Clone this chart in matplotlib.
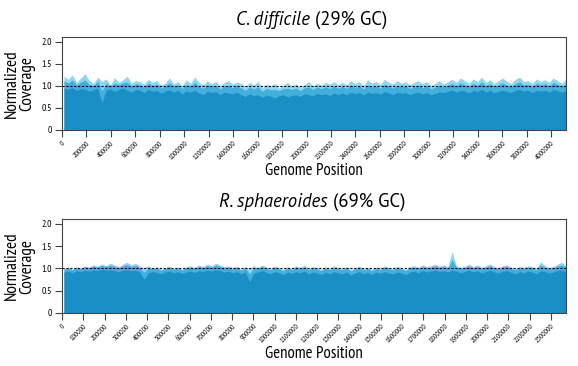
import numpy as np
import matplotlib
matplotlib.use("Agg")
import matplotlib.pyplot as plt

# ---- data (normalized coverage envelopes) ----
cd_len = 4122000
cd_upper = [1.22, 1.15, 1.25, 1.08, 1.18, 1.28, 1.12, 1.05, 1.2, 1.1, 1.16, 1.02, 1.19, 1.08, 1.14, 1.22, 1.06, 1.12,
            1.1, 1.04, 1.15, 1.08, 1.12, 1.02, 1.06, 1.18, 1.05, 1.1, 1.0, 1.14, 1.06, 1.2, 1.08, 1.03, 1.12, 1.05,
            1.1, 1.0, 1.08, 1.12, 1.04, 1.09,
            1.05, 0.98, 1.08, 1.02, 1.1, 0.96, 1.04, 1.0, 1.06, 0.95, 1.02, 1.08, 1.0, 1.05, 0.97, 1.03, 1.1, 1.0,
            1.06, 1.02, 1.08, 1.04, 1.1, 1.03,
            1.08, 1.02, 1.12, 1.05, 1.1, 1.0, 1.14, 1.06, 1.1, 1.03, 1.15, 1.08, 1.04, 1.12, 1.06, 1.1, 1.02, 1.08,
            1.12, 1.05, 1.1, 1.0, 1.06, 1.12,
            1.04, 1.1, 1.15, 1.08, 1.18, 1.12, 1.06, 1.16, 1.1, 1.2, 1.08, 1.14, 1.05, 1.12, 1.18, 1.1, 1.06, 1.15,
            1.2, 1.1, 1.12, 1.05, 1.16, 1.1, 1.14, 1.08, 1.18, 1.12, 1.06, 1.15]
cd_lower = [0.95, 0.92, 0.96, 0.9, 0.94, 0.93, 0.88, 0.91, 0.95, 0.62, 0.9, 0.93, 0.87, 0.92, 0.95, 0.9, 0.86, 0.92,
            0.9, 0.85, 0.92, 0.88, 0.9, 0.83, 0.88, 0.91, 0.86, 0.9, 0.82, 0.88, 0.86, 0.9, 0.84, 0.8, 0.88, 0.85,
            0.87, 0.8, 0.86, 0.84, 0.82, 0.86,
            0.8, 0.76, 0.82, 0.78, 0.8, 0.74, 0.79, 0.77, 0.72, 0.78, 0.8, 0.75, 0.78, 0.8, 0.76, 0.82, 0.8, 0.78,
            0.83, 0.8, 0.82, 0.78, 0.84, 0.8,
            0.84, 0.8, 0.86, 0.82, 0.85, 0.8, 0.86, 0.83, 0.85, 0.81, 0.87, 0.84, 0.8, 0.86, 0.83, 0.85, 0.8, 0.84,
            0.86, 0.82, 0.85, 0.8, 0.83, 0.86,
            0.85, 0.88, 0.9, 0.86, 0.9, 0.88, 0.84, 0.9, 0.87, 0.92, 0.86, 0.9, 0.84, 0.88, 0.9, 0.87, 0.85, 0.9,
            0.92, 0.88, 0.9, 0.85, 0.9, 0.88, 0.9, 0.86, 0.92, 0.89, 0.86, 0.9]

rs_len = 2371000
rs_upper = [1.0, 1.02, 0.98, 1.04, 1.0, 1.06, 1.03, 1.08, 1.05, 1.1, 1.06, 1.12, 1.08, 1.04, 1.1, 1.14, 1.08, 1.12,
            1.05, 1.02, 1.06, 1.0, 1.04, 0.98, 1.02, 1.05, 1.0, 1.03, 0.98, 1.04,
            1.06, 1.02, 1.08, 1.04, 1.1, 1.06, 1.12, 1.08, 1.04, 1.06, 1.02, 1.05, 0.98, 1.04, 1.0, 1.06, 1.02, 1.08,
            1.03, 1.0, 1.05, 1.02, 0.98, 1.04, 1.0, 1.06, 1.02, 1.08, 1.0, 1.04,
            1.02, 0.98, 1.04, 1.0, 1.06, 1.02, 1.0, 1.04, 0.98, 1.02, 1.05, 1.0, 1.03, 0.98, 1.04, 1.0, 1.06, 1.02,
            1.0, 1.05, 1.02, 0.98, 1.04, 1.06, 1.02, 1.08, 1.04, 1.06, 1.1, 1.05,
            1.08, 1.04, 1.38, 1.06, 1.02, 1.05, 1.1, 1.04, 1.08, 1.02, 1.06, 1.1, 1.04, 1.02, 1.06, 1.08, 1.03, 1.0,
            1.05, 1.02, 1.06, 1.04, 1.0, 1.15, 1.06, 1.02, 1.04, 1.1, 1.14, 1.06]
rs_lower = [0.92, 0.94, 0.9, 0.95, 0.93, 0.96, 0.94, 0.97, 0.95, 0.98, 0.96, 0.97, 0.95, 0.93, 0.96, 0.97, 0.95, 0.96,
            0.92, 0.75, 0.9, 0.93, 0.91, 0.88, 0.92, 0.94, 0.9, 0.93, 0.89, 0.92,
            0.94, 0.91, 0.95, 0.93, 0.96, 0.94, 0.97, 0.95, 0.92, 0.94, 0.9, 0.93, 0.88, 0.92, 0.7, 0.9, 0.92, 0.95,
            0.91, 0.88, 0.93, 0.9, 0.86, 0.92, 0.89, 0.93, 0.9, 0.94, 0.88, 0.92,
            0.9, 0.86, 0.92, 0.88, 0.93, 0.9, 0.88, 0.92, 0.85, 0.9, 0.93, 0.88, 0.91, 0.86, 0.92, 0.89, 0.93, 0.9,
            0.88, 0.92, 0.9, 0.86, 0.92, 0.94, 0.9, 0.95, 0.92, 0.94, 0.96, 0.93,
            0.95, 0.92, 0.96, 0.94, 0.9, 0.93, 0.96, 0.92, 0.95, 0.9, 0.93, 0.96, 0.92, 0.9, 0.94, 0.95, 0.91, 0.88,
            0.93, 0.9, 0.94, 0.92, 0.88, 0.95, 0.93, 0.9, 0.92, 0.95, 0.96, 0.93]

cd_ticks = list(range(0, 4000001, 200000))
rs_ticks = list(range(0, 2300001, 100000))
y_ticks = [0, 0.5, 1.0, 1.5, 2.0]
y_labels = ["0", "0.5", "1.0", "1.5", "2.0"]

# condensed Myriad-like look; fall back to DejaVu if missing
NARROW = ["PT Sans Narrow", "DejaVu Sans"]
TITLE = ["PT Sans", "Open Sans", "DejaVu Sans"]

DARK = "#1a8fc5"
MID = "#44aedd"
LIGHT = "#8fd6f0"
EDGE = "#444444"

fig = plt.figure(figsize=(5.78, 3.66), dpi=100)
ax1 = fig.add_axes([62/578, 1 - 130/366, 504/578, 93/366])
ax2 = fig.add_axes([62/578, 1 - 313/366, 504/578, 94/366])


def draw_panel(ax, length, upper, lower, ticks, start):
    upper = np.array(upper)
    lower = np.array(lower)
    x = np.linspace(start, length, len(upper))
    mid = (upper + lower) / 2
    ax.fill_between(x, 0, upper, color=LIGHT, lw=0)
    ax.fill_between(x, 0, mid + 0.03, color=MID, lw=0)
    ax.fill_between(x, 0, lower, color=DARK, lw=0)
    ax.axhline(1.0, color="black", lw=0.8, ls=(0, (2, 1.5)))
    ax.set_xlim(0, length)
    ax.set_ylim(0, 2.11)
    ax.set_yticks(y_ticks)
    ax.set_yticklabels(y_labels, fontsize=7, family=NARROW)
    ax.set_xticks(ticks)
    ax.set_xticklabels([str(t) for t in ticks], fontsize=5.5, family=NARROW,
                       rotation=45, ha="right", rotation_mode="anchor")
    ax.tick_params(axis="both", direction="out", length=5, width=0.8, color=EDGE, pad=2)
    for s in ax.spines.values():
        s.set_color(EDGE)
        s.set_linewidth(0.8)
    ax.set_ylabel("Normalized\nCoverage", fontsize=12.5, family=NARROW, labelpad=5, linespacing=0.9)
    ax.set_xlabel("Genome Position", fontsize=12, family=NARROW, labelpad=1)


draw_panel(ax1, cd_len, cd_upper, cd_lower, cd_ticks, 16000)
draw_panel(ax2, rs_len, rs_upper, rs_lower, rs_ticks, 9000)

# titles: italic species name + plain GC part, centred together
renderer = fig.canvas.get_renderer()


def two_part_title(xc, y, ital, plain):
    t1 = fig.text(0, y, ital, fontsize=13.5, style="italic", family=TITLE, va="baseline")
    t2 = fig.text(0, y, " " + plain, fontsize=13.5, family=TITLE, va="baseline")
    w1 = t1.get_window_extent(renderer).width / fig.dpi / fig.get_figwidth()
    w2 = t2.get_window_extent(renderer).width / fig.dpi / fig.get_figwidth()
    x0 = xc - (w1 + w2) / 2
    t1.set_x(x0)
    t2.set_x(x0 + w1)


two_part_title(312/578, 1 - 25/366, "C. difficile", "(29% GC)")
two_part_title(312/578, 1 - 207/366, "R. sphaeroides", "(69% GC)")

fig.savefig("out.png", dpi=100)
